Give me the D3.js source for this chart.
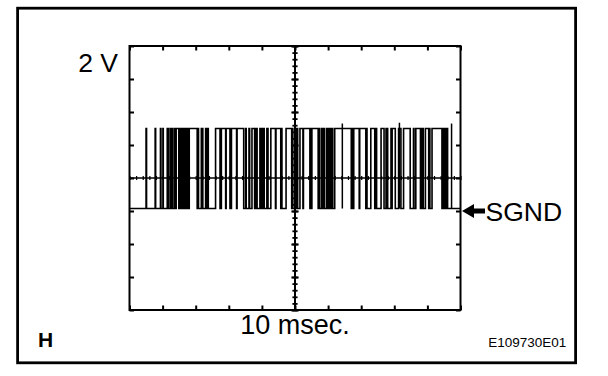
<!DOCTYPE html>
<html><head><meta charset="utf-8">
<script src="https://cdn.jsdelivr.net/npm/d3@7"></script>
<style>html,body{margin:0;padding:0;background:#fff;}svg{display:block;}</style>
</head><body>
<svg id="c" width="608" height="376"></svg>
<script>
// ---- data (time in ms, voltage in V relative to SGND) ----
const timeDomain = [0, 100];          // 10 msec / div
const voltDomain = [-6, 10];          // 2 V / div
const xMajorTicks = d3.range(0, 100.01, 10);
const yMajorTicks = d3.range(-6, 10.01, 2);
const xMinorTicks = d3.range(0, 100.01, 2);
const yMinorTicks = d3.range(-6, 10.01, 0.4);
const lowLevel = 0.15;
const highLevel = 5.0;
const highPulses = [
  [5.0,5.15],[7.75,7.9],[9.35,9.5],[10.1,10.2],
  [11.4,11.55],[11.7,11.85],[12.4,12.55],[12.75,12.9],
  [13.45,13.6],[13.75,13.85],[14.1,14.9],
  [15.05,15.2],[15.35,15.5],[15.65,15.8],
  [15.95,16.1],[16.25,16.4],[16.55,16.7],[16.85,17.0],[17.15,17.3],[17.45,17.6],[17.75,17.9],
  [18.05,20.45],
  [20.7,20.85],[21.7,21.85],[22.0,22.15],
  [23.0,23.15],[23.35,23.5],[23.65,23.8],
  [26.0,27.35],[27.5,27.6],[27.75,29.05],[29.2,30.35],[30.5,30.65],[30.8,32.35],[32.5,34.5],
  [35.1,35.25],[36.1,36.3],[37.0,37.8],[38.0,38.15],[38.4,38.55],[39.4,39.55],[39.8,39.95],
  [40.3,40.45],[40.6,40.7],[41.5,41.6],[41.75,41.85],
  [42.7,44.1],[44.25,45.7],[45.9,46.05],[47.3,49.0],
  [49.2,49.35],[50.3,50.45],[50.65,50.8],
  [51.5,52.4],[52.55,54.5],[54.7,54.85],[55.1,57.0],[57.4,57.5],
  [58.1,58.25],[58.45,58.6],[58.8,58.95],[59.6,59.75],
  [60.05,60.15],[60.4,60.55],[60.75,60.85],[61.3,61.4],
  [62.0,67.0],[67.4,67.55],[67.75,69.4],[69.55,71.4],[71.6,71.75],
  [72.9,74.1],[74.5,74.65],[76.0,76.9],[77.5,77.65],[77.85,78.0],
  [79.0,79.15],[79.35,80.3],
  [81.3,82.0],[82.8,84.8],[85.8,85.95],[86.5,87.9],[88.2,88.35],[88.6,88.75],
  [89.4,90.4],[90.6,90.75],[91.4,94.4],
  [94.6,94.75],[94.9,95.05],[95.2,95.35],[95.5,95.65],[96.0,96.1]
];
const spikes = [[64.3, 5.3], [81.55, 5.35], [97.3, 5.3]];
const centerTime = 50;
const centerVolt = 2;
const sgndVolt = 0;

// ---- layout ----
const svg = d3.select('#c');
const L = 129.5, R = 460.5, T = 46, B = 310;
const x = d3.scaleLinear().domain(timeDomain).range([L, R]);
const y = d3.scaleLinear().domain(voltDomain).range([B, T]);
const font = "'Liberation Sans', Arial, Helvetica, sans-serif";

// outer frame
svg.append('rect').attr('x', 17.6).attr('y', 8.2).attr('width', 558).attr('height', 354.6)
  .attr('fill', 'none').attr('stroke', '#000').attr('stroke-width', 2.8);

function styleAxis(g, w) {
  g.select('.domain').remove();
  g.selectAll('text').remove();
  g.selectAll('line').attr('stroke', '#000').attr('stroke-width', w);
}
// border ticks (inward)
const tk = 4.5;
svg.append('g').attr('transform', `translate(0,${B})`)
  .call(d3.axisBottom(x).tickValues(xMajorTicks).tickSize(-tk).tickFormat('')).call(g => styleAxis(g, 2));
svg.append('g').attr('transform', `translate(0,${T})`)
  .call(d3.axisTop(x).tickValues(xMajorTicks).tickSize(-tk).tickFormat('')).call(g => styleAxis(g, 2));
svg.append('g').attr('transform', `translate(${L},0)`)
  .call(d3.axisLeft(y).tickValues(yMajorTicks).tickSize(-tk).tickFormat('')).call(g => styleAxis(g, 2));
svg.append('g').attr('transform', `translate(${R},0)`)
  .call(d3.axisRight(y).tickValues(yMajorTicks).tickSize(-tk).tickFormat('')).call(g => styleAxis(g, 2));

// center horizontal line with minor ticks
const cy = y(centerVolt);
svg.append('line').attr('x1', L).attr('x2', R).attr('y1', cy).attr('y2', cy)
  .attr('stroke', '#000').attr('stroke-width', 1.5);
svg.append('g').attr('transform', `translate(0,${cy})`)
  .call(d3.axisBottom(x).tickValues(xMinorTicks).tickSize(2).tickFormat('')).call(g => styleAxis(g, 1.2));
svg.append('g').attr('transform', `translate(0,${cy})`)
  .call(d3.axisTop(x).tickValues(xMinorTicks).tickSize(2).tickFormat('')).call(g => styleAxis(g, 1.2));

// center vertical line with minor ticks
const cx = x(centerTime);
svg.append('line').attr('x1', cx).attr('x2', cx).attr('y1', T).attr('y2', B)
  .attr('stroke', '#000').attr('stroke-width', 2);
svg.append('g').attr('transform', `translate(${cx},0)`)
  .call(d3.axisLeft(y).tickValues(yMinorTicks).tickSize(2.6).tickFormat('')).call(g => styleAxis(g, 1.8));
svg.append('g').attr('transform', `translate(${cx},0)`)
  .call(d3.axisRight(y).tickValues(yMinorTicks).tickSize(2.6).tickFormat('')).call(g => styleAxis(g, 1.8));
svg.append('g').attr('transform', `translate(${cx},0)`)
  .call(d3.axisLeft(y).tickValues(yMajorTicks).tickSize(3.6).tickFormat('')).call(g => styleAxis(g, 2));
svg.append('g').attr('transform', `translate(${cx},0)`)
  .call(d3.axisRight(y).tickValues(yMajorTicks).tickSize(3.6).tickFormat('')).call(g => styleAxis(g, 2));

// waveform
const pts = [[timeDomain[0], lowLevel]];
highPulses.forEach(([s, e]) => {
  pts.push([s, lowLevel], [s, highLevel], [e, highLevel], [e, lowLevel]);
});
pts.push([timeDomain[1], lowLevel]);
const line = d3.line().x(d => x(d[0])).y(d => y(d[1]));
svg.append('path').attr('d', line(pts)).attr('fill', 'none')
  .attr('stroke', '#000').attr('stroke-width', 1.6).attr('stroke-linejoin', 'miter');
svg.append('g').selectAll('line').data(spikes).join('line')
  .attr('x1', d => x(d[0])).attr('x2', d => x(d[0]))
  .attr('y1', y(lowLevel)).attr('y2', d => y(d[1]))
  .attr('stroke', '#000').attr('stroke-width', 1.5);

// plot border
svg.append('rect').attr('x', L).attr('y', T).attr('width', R - L).attr('height', B - T)
  .attr('fill', 'none').attr('stroke', '#000').attr('stroke-width', 2);

// SGND arrow
const ay = y(sgndVolt);
const ax = R + 1.5;
svg.append('path')
  .attr('d', `M${ax},${ay} L${ax + 12},${ay - 7} L${ax + 12},${ay - 2.5} L${ax + 23},${ay - 2.5} L${ax + 23},${ay + 2.5} L${ax + 12},${ay + 2.5} L${ax + 12},${ay + 7} Z`)
  .attr('fill', '#000');

// texts
svg.append('text').attr('x', 118).attr('y', 72).attr('text-anchor', 'end')
  .attr('font-family', font).attr('font-size', 26.5).text('2 V');
svg.append('text').attr('x', cx).attr('y', 333.5).attr('text-anchor', 'middle')
  .attr('font-family', font).attr('font-size', 27).text('10 msec.');
svg.append('text').attr('x', 485.5).attr('y', 220.5)
  .attr('font-family', font).attr('font-size', 26.5).text('SGND');
svg.append('text').attr('x', 38).attr('y', 347)
  .attr('font-family', font).attr('font-size', 21).attr('font-weight', 'bold').text('H');
svg.append('text').attr('x', 566.3).attr('y', 347).attr('text-anchor', 'end')
  .attr('font-family', font).attr('font-size', 12.6).attr('textLength', 78).attr('lengthAdjust', 'spacingAndGlyphs')
  .text('E109730E01');
</script>
</body></html>
